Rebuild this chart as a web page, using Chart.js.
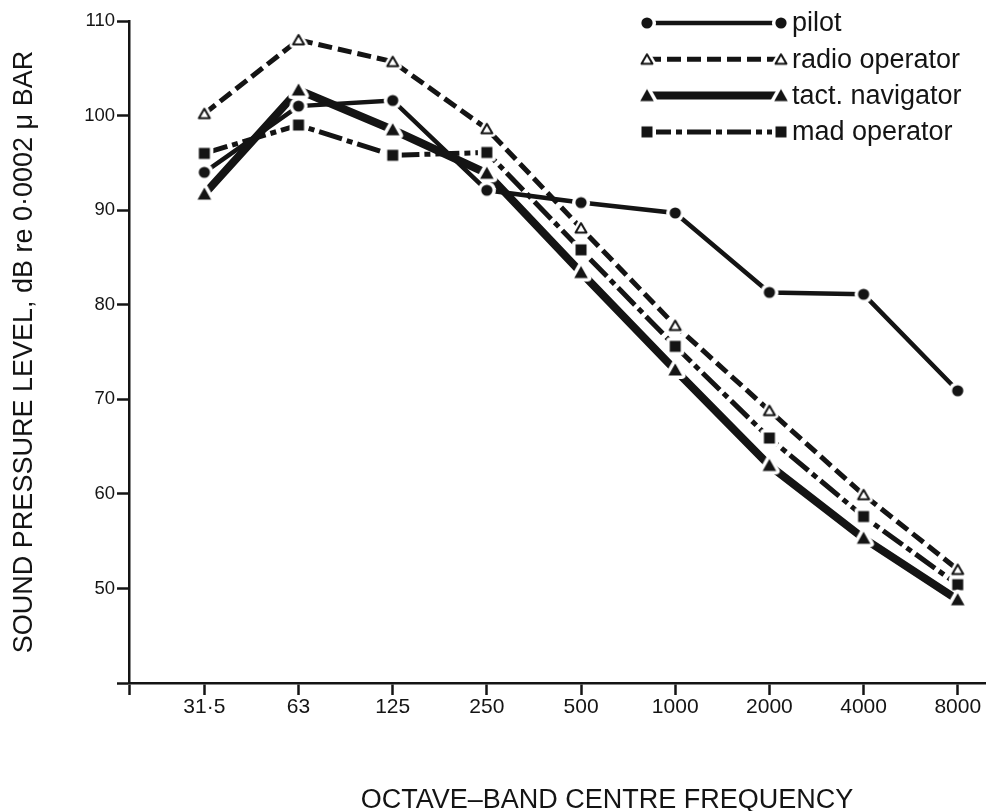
<!DOCTYPE html>
<html>
<head>
<meta charset="utf-8">
<title>Octave-band sound pressure levels</title>
<script src="https://cdn.jsdelivr.net/npm/chart.js@4.4.1/dist/chart.umd.min.js"></script>
<style>
  html, body { margin: 0; padding: 0; background: #fff; }
  #wrap { width: 986px; height: 811px; position: relative; }
</style>
</head>
<body>
<div id="wrap"><canvas id="splChart"></canvas></div>
<script>
// --- Data: octave bands (Hz) and SPL in dB per crew position ---
const bands = ['31·5', '63', '125', '250', '500', '1000', '2000', '4000', '8000'];
const crewNames = ['pilot', 'radio operator', 'tact. navigator', 'mad operator'];
const pilotSpl = [94, 101, 101.6, 92.1, 90.8, 89.7, 81.3, 81.1, 70.9];
const radioSpl = [100.2, 108, 105.7, 98.6, 88.1, 77.8, 68.8, 59.9, 52];
const navigatorSpl = [91.7, 102.7, 98.5, 93.9, 83.4, 73.1, 63, 55.3, 48.8];
const madSpl = [96, 99, 95.8, 96.1, 85.8, 75.6, 65.9, 57.6, 50.4];

const INK = '#141414';
const FONT = "'Liberation Sans', Arial, Helvetica, sans-serif";
const X_TITLE = 'OCTAVE–BAND CENTRE FREQUENCY';

// --- Markers: drawn once on small canvases, with a white halo so lines stop short of them ---
function makeMarker(shape, filled) {
    const c = document.createElement('canvas');
    c.width = 24; c.height = 24;
    const g = c.getContext('2d');
    const path = () => {
        g.beginPath();
        if (shape === 'circle') {
            g.arc(12, 12, 5.6, 0, Math.PI * 2);
        } else if (shape === 'square') {
            g.rect(6.5, 6.5, 11, 11);
        } else if (filled) {
            g.moveTo(12, 5.5); g.lineTo(18.8, 17.5); g.lineTo(5.2, 17.5); g.closePath();
        } else {
            g.moveTo(12, 7); g.lineTo(17.5, 16.5); g.lineTo(6.5, 16.5); g.closePath();
        }
    };
    g.lineJoin = 'round';
    path();
    g.fillStyle = '#fff'; g.strokeStyle = '#fff'; g.lineWidth = 7;
    g.fill(); g.stroke();
    path();
    if (filled) {
        g.fillStyle = INK; g.fill();
    } else {
        g.fillStyle = '#fff'; g.fill();
        g.lineWidth = 2; g.strokeStyle = INK; g.stroke();
    }
    return c;
}

const crewStyles = [
    { marker: makeMarker('circle', true), width: 4.5, dash: [] },
    { marker: makeMarker('triangle', false), width: 5, dash: [14, 6] },
    { marker: makeMarker('triangle', true), width: 8, dash: [] },
    { marker: makeMarker('square', true), width: 5, dash: [24, 5, 6, 5] }
];
const crewSeries = [pilotSpl, radioSpl, navigatorSpl, madSpl];

const datasets = crewSeries.map((values, k) => ({
    label: crewNames[k],
    data: values.map((v, i) => ({ x: i, y: v })),
    borderColor: INK,
    borderWidth: crewStyles[k].width,
    borderDash: crewStyles[k].dash,
    borderCapStyle: 'butt',
    pointStyle: crewStyles[k].marker,
    pointRadius: 6,
    pointHoverRadius: 6,
    tension: 0,
    fill: false,
    clip: false
}));

// --- Legend in the top right (marker, line sample, marker, name) and the x-axis title ---
const crewLegend = {
    id: 'crewLegend',
    afterDraw(chart) {
        const ctx = chart.ctx;
        const x0 = 647, x1 = 781;
        ctx.save();
        ctx.font = '27px ' + FONT;
        ctx.fillStyle = INK;
        ctx.textBaseline = 'middle';
        crewNames.forEach((name, k) => {
            const y = 23 + k * 36.3;
            const st = crewStyles[k];
            ctx.beginPath();
            ctx.setLineDash(st.dash);
            ctx.lineWidth = st.width;
            ctx.strokeStyle = INK;
            ctx.moveTo(x0, y);
            ctx.lineTo(x1, y);
            ctx.stroke();
            ctx.setLineDash([]);
            ctx.drawImage(st.marker, x0 - 12, y - 12);
            ctx.drawImage(st.marker, x1 - 12, y - 12);
            ctx.fillText(name, 792, y + 1);
        });

        // x-axis title sits right of the plot centre
        ctx.textAlign = 'center';
        ctx.textBaseline = 'alphabetic';
        ctx.fillText(X_TITLE, 607, 808);
        ctx.restore();
    }
};

new Chart(document.getElementById('splChart'), {
    type: 'line',
    data: { datasets: datasets },
    plugins: [crewLegend],
    options: {
        responsive: true,
        maintainAspectRatio: false,
        animation: false,
        layout: { autoPadding: false, padding: { top: 21, right: 0, bottom: 0, left: 0 } },
        plugins: {
            legend: { display: false },
            tooltip: { enabled: false }
        },
        scales: {
            x: {
                type: 'linear',
                min: -0.8,
                max: 8.3,
                afterBuildTicks: (scale) => {
                    scale.ticks = [{ value: scale.min }].concat(bands.map((b, i) => ({ value: i })));
                },
                afterFit: (scale) => {
                    scale.height = 128;
                    scale.paddingLeft = 0;
                    scale.paddingRight = 0;
                },
                ticks: {
                    autoSkip: false,
                    maxRotation: 0,
                    padding: 0,
                    color: INK,
                    font: { family: FONT, size: 21 },
                    callback: (v) => bands[v] ?? ''
                },
                grid: { drawOnChartArea: false, tickLength: 12, tickWidth: 2.5, tickColor: INK },
                border: { color: INK, width: 2.5 }
            },
            y: {
                min: 40,
                max: 110,
                afterFit: (scale) => { scale.width = 129; },
                ticks: {
                    stepSize: 10,
                    padding: 2,
                    color: INK,
                    font: { family: FONT, size: 18.5 },
                    callback: (v) => (v === 40 ? '' : v)
                },
                grid: { drawOnChartArea: false, tickLength: 12, tickWidth: 2.5, tickColor: INK },
                border: { color: INK, width: 2.5 },
                title: {
                    display: true,
                    text: 'SOUND PRESSURE LEVEL, dB re 0·0002 μ BAR',
                    color: INK,
                    font: { family: FONT, size: 27 },
                    padding: { top: 8, bottom: 0 }
                }
            }
        }
    }
});
</script>
</body>
</html>
